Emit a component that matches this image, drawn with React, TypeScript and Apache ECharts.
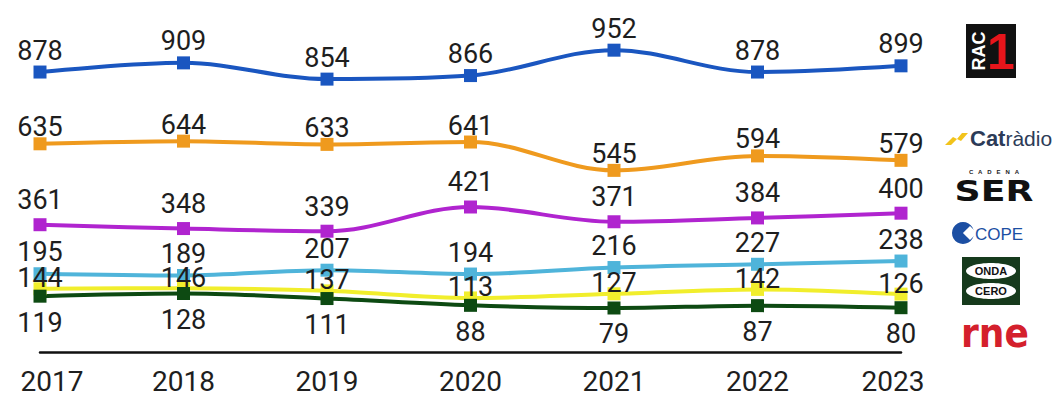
import React, { useEffect, useRef } from "react";
import * as echarts from "echarts";

const years = ["2017", "2018", "2019", "2020", "2021", "2022", "2023"];

const rac1 = [878, 909, 854, 866, 952, 878, 899];
const catradio = [635, 644, 633, 641, 545, 594, 579];
const ser = [361, 348, 339, 421, 371, 384, 400];
const cope = [195, 189, 207, 194, 216, 227, 238];
const ondaCero = [144, 146, 137, 113, 127, 142, 126];
const rne = [119, 128, 111, 88, 79, 87, 80];

const FONT = "Roboto, 'Noto Sans', sans-serif";

function lineSeries(
  name: string,
  data: number[],
  color: string,
  labelPos: "top" | "bottom",
  labelDist: number
) {
  return {
    name,
    type: "line",
    data,
    smooth: 0.35,
    symbol: "rect",
    symbolSize: 13,
    lineStyle: { color, width: 4 },
    itemStyle: { color },
    label: {
      show: true,
      position: labelPos,
      distance: labelDist,
      color: "#1e1e1e",
      fontSize: 27,
      lineHeight: 24,
      fontFamily: FONT,
    },
    z: 2,
  };
}

export default function App() {
  const ref = useRef<HTMLDivElement>(null);

  useEffect(() => {
    if (!ref.current) return;
    const chart = echarts.init(ref.current, null, { renderer: "svg" });

    const logos: any[] = [
      // RAC1
      { type: "rect", shape: { x: 966, y: 24, width: 50, height: 54 }, style: { fill: "#111" } },
      {
        type: "text",
        x: 979,
        y: 51,
        rotation: Math.PI / 2,
        style: {
          text: "RAC",
          fill: "#fff",
          font: "bold 18px 'Liberation Sans', sans-serif",
          textAlign: "center",
          textVerticalAlign: "middle",
        },
      },
      {
        type: "text",
        x: 1001,
        y: 52,
        style: {
          text: "1",
          fill: "#e8151b",
          font: "bold 50px 'Liberation Sans', sans-serif",
          textAlign: "center",
          textVerticalAlign: "middle",
        },
      },
      // Catalunya Ràdio
      {
        type: "polygon",
        shape: {
          points: [
            [945, 145], [953, 137], [957, 139], [962, 133], [968, 133],
            [961, 141], [957, 139], [951, 145],
          ],
        },
        style: { fill: "#f2c31b" },
      },
      {
        type: "text",
        x: 970,
        y: 138,
        style: {
          text: "{a|Cat}{b|ràdio}",
          textVerticalAlign: "middle",
          rich: {
            a: { fill: "#2c3b57", font: "bold 22px 'Liberation Sans', sans-serif" },
            b: { fill: "#2c3b57", font: "21px 'Liberation Sans', sans-serif" },
          },
        },
      },
      // Cadena SER
      {
        type: "text",
        x: 994,
        y: 172,
        style: {
          text: "C   A   D   E   N   A",
          fill: "#222",
          font: "bold 6px 'Liberation Sans', sans-serif",
          textAlign: "center",
          textVerticalAlign: "middle",
        },
      },
      {
        type: "text",
        x: 994,
        y: 191,
        scaleX: 1.25,
        style: {
          text: "SER",
          fill: "#111",
          font: "900 29px 'DejaVu Sans', sans-serif",
          textAlign: "center",
          textVerticalAlign: "middle",
        },
      },
      // COPE
      { type: "circle", shape: { cx: 963, cy: 233, r: 11 }, style: { fill: "#1c4fa3" } },
      {
        type: "rect",
        x: 970,
        y: 233,
        rotation: Math.PI / 4,
        shape: { x: -5, y: -5, width: 10, height: 10 },
        style: { fill: "#fff" },
      },
      {
        type: "text",
        x: 975,
        y: 234,
        style: {
          text: "COPE",
          fill: "#1c4fa3",
          font: "17px 'Liberation Sans Narrow', 'Liberation Sans', sans-serif",
          textVerticalAlign: "middle",
        },
      },
      // Onda Cero
      { type: "rect", shape: { x: 962, y: 257, width: 58, height: 48 }, style: { fill: "#163a1c" } },
      { type: "ellipse", shape: { cx: 991, cy: 271, rx: 25, ry: 8 }, style: { fill: "#fff" } },
      { type: "ellipse", shape: { cx: 991, cy: 291, rx: 25, ry: 8 }, style: { fill: "#fff" } },
      {
        type: "text",
        x: 991,
        y: 271,
        style: {
          text: "ONDA",
          fill: "#111",
          font: "bold 11px 'Liberation Sans', sans-serif",
          textAlign: "center",
          textVerticalAlign: "middle",
        },
      },
      {
        type: "text",
        x: 991,
        y: 291,
        style: {
          text: "CERO",
          fill: "#111",
          font: "bold 11px 'Liberation Sans', sans-serif",
          textAlign: "center",
          textVerticalAlign: "middle",
        },
      },
      // RNE
      {
        type: "text",
        x: 995,
        y: 333,
        style: {
          text: "rne",
          fill: "#d4202c",
          font: "bold 40px 'DejaVu Sans Condensed', 'DejaVu Sans', sans-serif",
          textAlign: "center",
          textVerticalAlign: "middle",
        },
      },
    ];

    chart.setOption({
      animation: false,
      backgroundColor: "#fff",
      grid: {
        left: 40,
        right: 156,
        top: 36,
        bottom: 42,
        containLabel: false,
        outerBoundsMode: "none",
      },
      xAxis: {
        type: "category",
        data: years,
        boundaryGap: false,
        axisLine: { show: true, onZero: false, lineStyle: { color: "#111", width: 2.5 } },
        axisTick: { show: false },
        axisLabel: {
          color: "#1e1e1e",
          fontSize: 28,
          lineHeight: 22,
          fontFamily: FONT,
          margin: 18,
          interval: 0,
          formatter: (v: string, i: number) =>
            i === 0 ? `{first|${v}}` : i === years.length - 1 ? `{last|${v}}` : v,
          rich: {
            first: { fontSize: 28, lineHeight: 22, fontFamily: FONT, color: "#1e1e1e", padding: [0, 0, 0, 24] },
            last: { fontSize: 28, lineHeight: 22, fontFamily: FONT, color: "#1e1e1e", padding: [0, 16, 0, 0] },
          },
        },
        splitLine: { show: false },
      },
      yAxis: {
        type: "value",
        min: -70,
        max: 1000,
        show: false,
        splitLine: { show: false },
      },
      series: [
        lineSeries("RAC1", rac1, "#1a56c0", "top", 3),
        lineSeries("Catalunya Ràdio", catradio, "#ef9a1e", "top", -2),
        lineSeries("Cadena SER", ser, "#b024cf", "top", 6),
        lineSeries("COPE", cope, "#4fb4da", "top", 3),
        lineSeries("Onda Cero", ondaCero, "#f1ee2c", "top", -8),
        lineSeries("RNE", rne, "#0d4a12", "bottom", 8),
      ],
      graphic: logos,
    });

    return () => chart.dispose();
  }, []);

  return <div ref={ref} style={{ width: 1057, height: 394, position: "absolute", left: 0, top: 0 }} />;
}
